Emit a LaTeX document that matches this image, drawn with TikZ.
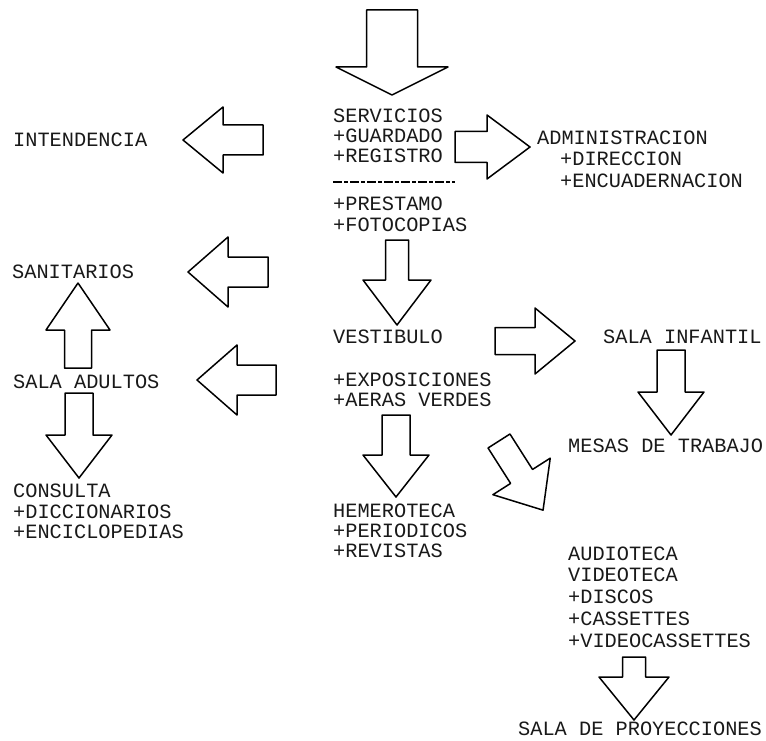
\documentclass[tikz,border=0pt]{standalone}
\usepackage{fontspec}
\setmainfont{Liberation Mono}
\newcommand{\barrow}[7]{%
  \draw[arr, shift={(#1,#2)}, rotate=#3]
    (0,#5) -- ({#4-#7},#5) -- ({#4-#7},#6) -- (#4,0) -- ({#4-#7},-#6) -- ({#4-#7},-#5) -- (0,-#5) -- cycle;}
\tikzset{
  arr/.style={draw=black, line width=1.5pt, line join=round},
  lbl/.style={anchor=base west, inner sep=0pt, font=\fontsize{20.3}{20}\selectfont, text=black!90}
}
\begin{document}
\begin{tikzpicture}[x=1pt, y=-1pt]
\useasboundingbox (0,0) rectangle (766,741);
% arrows: x, y (tail centre), angle, length, shaft half, head half, head length
\barrow{392}{10}{-90}{85}{25.5}{56}{28}
\barrow{455}{147}{0}{75}{15.5}{32}{43}
\barrow{263}{140}{180}{80}{15}{33}{40}
\barrow{268}{272}{180}{80}{15}{35}{40}
\barrow{78}{368}{90}{85}{13.5}{32}{47}
\barrow{276}{380}{180}{79}{15}{35}{40}
\barrow{79}{393}{-90}{85}{14}{33}{43}
\barrow{397}{240}{-90}{85}{11.5}{34}{45}
\barrow{495}{341}{0}{80}{13.5}{33}{40}
\barrow{671}{350}{-90}{85}{14}{33}{43}
\barrow{396}{415}{-90}{82}{14}{33}{42}
\barrow{499}{441}{-57.5}{82}{13}{34}{40}
\barrow{634}{657}{-90}{63}{11.5}{35}{43}
% texts
\node[lbl] (serv) at (333,123) {SERVICIOS};
\node[lbl] (guard) at (333,143) {+GUARDADO};
\node[lbl] (reg) at (333,163) {+REGISTRO};
\coordinate (dl) at (333,182);
\coordinate (dr) at (455,182);
\draw[line width=1.2pt, dash pattern=on 9pt off 2pt on 4pt off 2pt] (dl) -- (dr);
\node[lbl] (prest) at (333,211) {+PRESTAMO};
\node[lbl] (foto) at (333,231) {+FOTOCOPIAS};
\node[lbl] (admin) at (537,145) {ADMINISTRACION};
\node[lbl] (dir) at (560,166) {+DIRECCION};
\node[lbl] (enc) at (560,187) {+ENCUADERNACION};
\node[lbl] (inten) at (13,147) {INTENDENCIA};
\node[lbl] (sanit) at (12,278) {SANITARIOS};
\node[lbl] (adult) at (13,388) {SALA ADULTOS};
\node[lbl] (cons) at (13,497) {CONSULTA};
\node[lbl] (dicc) at (13,518) {+DICCIONARIOS};
\node[lbl] (encic) at (13,538) {+ENCICLOPEDIAS};
\node[lbl] (vest) at (333,343) {VESTIBULO};
\node[lbl] (expo) at (333,386) {+EXPOSICIONES};
\node[lbl] (aeras) at (333,406) {+AERAS VERDES};
\node[lbl] (infan) at (603,343) {SALA INFANTIL};
\node[lbl] (mesas) at (568,452) {MESAS DE TRABAJO};
\node[lbl] (hemer) at (333,517) {HEMEROTECA};
\node[lbl] (perio) at (333,537) {+PERIODICOS};
\node[lbl] (revis) at (333,557) {+REVISTAS};
\node[lbl] (audio) at (568,560) {AUDIOTECA};
\node[lbl] (video) at (568,581) {VIDEOTECA};
\node[lbl] (disc) at (568,603) {+DISCOS};
\node[lbl] (cass) at (568,625) {+CASSETTES};
\node[lbl] (vcass) at (568,647) {+VIDEOCASSETTES};
\node[lbl] (proy) at (518,735) {SALA DE PROYECCIONES};
\end{tikzpicture}
\end{document}
